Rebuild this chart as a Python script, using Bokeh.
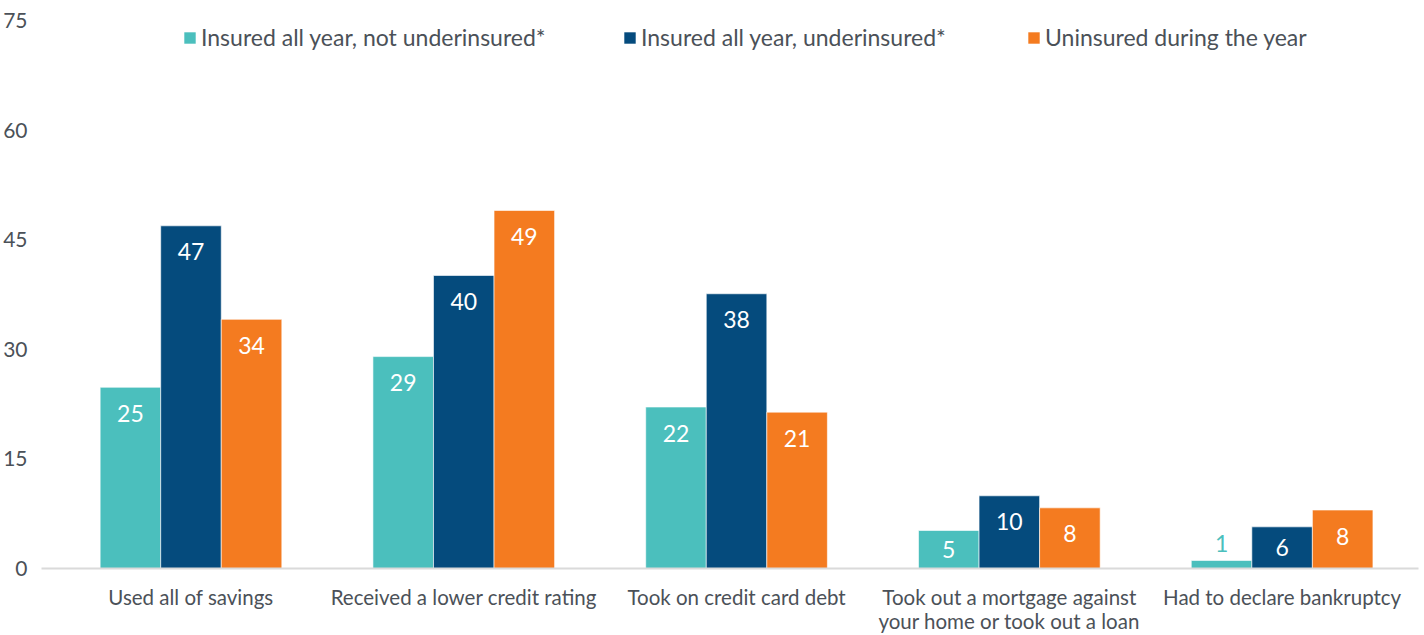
from bokeh.plotting import figure
from bokeh.models import FixedTicker, Legend, LegendItem, ColumnDataSource, Range1d
from bokeh.core.properties import value
from bokeh.embed import file_html
from bokeh.resources import INLINE

categories = [
    "Used all of savings",
    "Received a lower credit rating",
    "Took on credit card debt",
    "Took out a mortgage against\nyour home or took out a loan",
    "Had to declare bankruptcy",
]
series_names = [
    "Insured all year, not underinsured*",
    "Insured all year, underinsured*",
    "Uninsured during the year",
]
insured_not_under = [24.8, 29.0, 22.1, 5.2, 1.1]
insured_under = [46.9, 40.1, 37.6, 9.95, 5.7]
uninsured = [34.1, 49.0, 21.4, 8.3, 8.0]
y_ticks = [0, 15, 30, 45, 60, 75]
colors = ["#4BBFBD", "#054B7D", "#F47B20"]

FONT = "Lato"
TEXT = "#4B5158"

p = figure(width=1424, height=635, output_backend="svg", toolbar_location=None,
           x_range=Range1d(-0.548, 4.5), y_range=Range1d(0, 75),
           min_border_top=20, min_border_right=6, min_border_left=41, min_border_bottom=65)
p.outline_line_color = None
p.xgrid.visible = False
p.ygrid.visible = False
p.background_fill_color = "white"
p.border_fill_color = "white"

p.yaxis.ticker = FixedTicker(ticks=y_ticks)
p.yaxis.axis_line_color = None
p.yaxis.major_tick_line_color = None
p.yaxis.minor_tick_line_color = None
p.yaxis.major_label_text_font = FONT
p.yaxis.major_label_text_font_size = "21px"
p.yaxis.major_label_text_color = TEXT
p.yaxis.major_label_standoff = 8

p.xaxis.ticker = FixedTicker(ticks=list(range(len(categories))))
p.xaxis.major_label_overrides = {i: c for i, c in enumerate(categories)}
p.xaxis.axis_line_color = "#DADADA"
p.xaxis.axis_line_width = 2
p.xaxis.major_tick_line_color = None
p.xaxis.minor_tick_line_color = None
p.xaxis.major_tick_in = 0
p.xaxis.major_tick_out = 0
p.xaxis.major_label_text_font = FONT
p.xaxis.major_label_text_font_size = "20.5px"
p.xaxis.major_label_text_line_height = 1.0
p.xaxis.major_label_text_color = TEXT
p.xaxis.major_label_standoff = 16

bar_w = 0.222
ppu = 550 / 75.0
series = [insured_not_under, insured_under, uninsured]
renderers = []
for j, (name, vals, col) in enumerate(zip(series_names, series, colors)):
    xs = [i + (j - 1) * bar_w for i in range(len(vals))]
    src = ColumnDataSource(dict(x=xs, top=vals))
    r = p.vbar(x="x", top="top", width=bar_w, source=src, fill_color=col,
               line_color="white", line_alpha=0.6, line_width=1)
    renderers.append(r)
    lx, ly, lt, loff, lc = [], [], [], [], []
    for x, v in zip(xs, vals):
        hpx = v * ppu
        lx.append(x)
        ly.append(v)
        lt.append(str(round(v)))
        if hpx >= 30:
            loff.append(min(26, hpx / 2))
            lc.append("white")
        else:
            loff.append(-17)
            lc.append(col)
    lsrc = ColumnDataSource(dict(x=lx, y=ly, t=lt, off=loff, c=lc))
    p.text(x="x", y="y", text="t", y_offset="off", text_color="c", source=lsrc,
           text_align="center", text_baseline="middle", text_font=value(FONT),
           text_font_size="23px")

leg_x = [141, 581, 985]
for name, r, lx in zip(series_names, renderers, leg_x):
    leg = Legend(items=[LegendItem(label=name, renderers=[r])], location=(lx, 517),
                 orientation="horizontal", background_fill_alpha=0, border_line_color=None,
                 padding=0, margin=0, glyph_width=15, glyph_height=15, label_standoff=4,
                 label_text_font=FONT, label_text_font_size="23px", label_text_color=TEXT,
                 label_text_baseline="middle")
    p.add_layout(leg)

open("out.html", "w").write(file_html(p, INLINE))
